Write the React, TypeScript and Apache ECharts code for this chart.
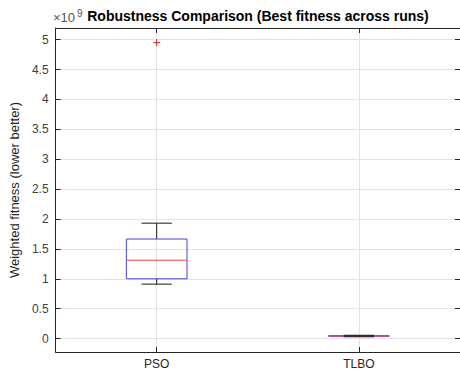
import React, { useEffect, useRef } from "react";
import * as echarts from "echarts";

const categories = ["PSO", "TLBO"];
// [low whisker, Q1, median, Q3, high whisker] in units of 1e9
const psoBox = [0.91, 1.0, 1.31, 1.665, 1.93];
const tlboBox = [0.03, 0.038, 0.043, 0.048, 0.055];
const psoOutliers = [4.95];
const tlboOutliers: number[] = [];
const yTicks = [0, 0.5, 1, 1.5, 2, 2.5, 3, 3.5, 4, 4.5, 5];
const xTicks = [1, 2];

const FONT = "Liberation Sans, Arial, sans-serif";
const AXIS_COLOR = "#262626";
const GRID_COLOR = "#e3e3e3";

export default function App() {
  const ref = useRef<HTMLDivElement>(null);
  useEffect(() => {
    if (!ref.current) return;
    const chart = echarts.init(ref.current, null, { renderer: "svg" });
    const boxData = [
      [1, ...psoBox],
      [2, ...tlboBox],
    ];
    const outlierData: number[][] = [
      ...psoOutliers.map((v) => [1, v]),
      ...tlboOutliers.map((v) => [2, v]),
    ];
    const axisCommonX = {
      type: "value" as const,
      min: 0.5,
      max: 2.5,
      axisLine: { show: true, onZero: false, lineStyle: { color: AXIS_COLOR, width: 1 } },
    };
    const axisCommonY = {
      type: "value" as const,
      min: -0.225,
      max: 5.195,
      axisLine: { show: true, onZero: false, lineStyle: { color: AXIS_COLOR, width: 1 } },
    };
    chart.setOption({
      animation: false,
      backgroundColor: "#ffffff",
      grid: { left: 52, right: -4, top: 28, bottom: 21, containLabel: false },
      graphic: [
        {
          type: "text",
          x: 258,
          y: 9,
          style: {
            text: "Robustness Comparison (Best fitness across runs)",
            fontSize: 14,
            fontWeight: "bold",
            fontFamily: FONT,
            fill: "#000",
            textAlign: "center",
            textVerticalAlign: "top",
          },
        },
        {
          type: "text",
          x: 53,
          y: 11,
          style: { text: "×10", fontSize: 13, fontFamily: FONT, fill: "#555", textVerticalAlign: "top" },
        },
        {
          type: "text",
          x: 77,
          y: 8,
          style: { text: "9", fontSize: 10, fontFamily: FONT, fill: "#555", textVerticalAlign: "top" },
        },
      ],
      xAxis: [
        {
          ...axisCommonX,
          position: "bottom",
          axisTick: { show: true, inside: true, length: 5, customValues: xTicks, lineStyle: { color: AXIS_COLOR } },
          axisLabel: {
            customValues: xTicks,
            formatter: (v: number) => categories[Math.round(v) - 1] ?? "",
            fontSize: 12,
            fontFamily: FONT,
            color: AXIS_COLOR,
            margin: 6,
          },
          splitLine: { show: true, lineStyle: { color: GRID_COLOR, width: 1 } },
        },
        {
          ...axisCommonX,
          position: "top",
          axisTick: { show: true, inside: true, length: 5, customValues: xTicks, lineStyle: { color: AXIS_COLOR } },
          axisLabel: { show: false },
          splitLine: { show: false },
        },
      ],
      yAxis: [
        {
          ...axisCommonY,
          position: "left",
          name: "Weighted fitness (lower better)",
          nameLocation: "middle",
          nameGap: 30,
          nameTextStyle: { fontSize: 13, fontFamily: FONT, color: AXIS_COLOR },
          axisTick: { show: true, inside: true, length: 5, customValues: yTicks, lineStyle: { color: AXIS_COLOR } },
          axisLabel: {
            customValues: yTicks,
            formatter: (v: number) => String(v),
            fontSize: 12,
            fontFamily: FONT,
            color: "#404040",
            margin: 7,
          },
          splitLine: { show: true, lineStyle: { color: GRID_COLOR, width: 1 } },
        },
        {
          ...axisCommonY,
          position: "right",
          axisTick: { show: true, inside: true, length: 5, customValues: yTicks, lineStyle: { color: AXIS_COLOR } },
          axisLabel: { show: false },
          splitLine: { show: false },
        },
      ],
      series: [
        {
          type: "custom",
          xAxisIndex: 0,
          yAxisIndex: 0,
          data: boxData,
          renderItem: (params: any, api: any) => {
            const x = api.value(0);
            const lo = api.coord([x, api.value(1)]);
            const q1 = api.coord([x, api.value(2)]);
            const md = api.coord([x, api.value(3)]);
            const q3 = api.coord([x, api.value(4)]);
            const hi = api.coord([x, api.value(5)]);
            const bw = api.size([0.3, 0])[0];
            const cw = api.size([0.15, 0])[0];
            const cx = lo[0];
            const black = { stroke: "#1a1a1a", lineWidth: 1 };
            return {
              type: "group",
              children: [
                { type: "line", shape: { x1: cx, y1: hi[1], x2: cx, y2: q3[1] }, style: black },
                { type: "line", shape: { x1: cx, y1: q1[1], x2: cx, y2: lo[1] }, style: black },
                {
                  type: "rect",
                  shape: { x: cx - bw / 2, y: q3[1], width: bw, height: Math.max(q1[1] - q3[1], 0.5) },
                  style: { fill: "none", stroke: "#4545d0", lineWidth: 1 },
                },
                {
                  type: "line",
                  shape: { x1: cx - bw / 2, y1: md[1], x2: cx + bw / 2, y2: md[1] },
                  style: { stroke: "#f04545", lineWidth: 1 },
                },
                { type: "line", shape: { x1: cx - cw / 2, y1: hi[1], x2: cx + cw / 2, y2: hi[1] }, style: black },
                { type: "line", shape: { x1: cx - cw / 2, y1: lo[1], x2: cx + cw / 2, y2: lo[1] }, style: black },
              ],
            };
          },
        },
        {
          type: "custom",
          xAxisIndex: 0,
          yAxisIndex: 0,
          data: outlierData,
          renderItem: (params: any, api: any) => {
            const p = api.coord([api.value(0), api.value(1)]);
            const s = 3.5;
            const st = { stroke: "#e02020", lineWidth: 1 };
            return {
              type: "group",
              children: [
                { type: "line", shape: { x1: p[0] - s, y1: p[1], x2: p[0] + s, y2: p[1] }, style: st },
                { type: "line", shape: { x1: p[0], y1: p[1] - s, x2: p[0], y2: p[1] + s }, style: st },
              ],
            };
          },
        },
      ],
    });
    return () => chart.dispose();
  }, []);
  return (
    <div
      ref={ref}
      style={{ position: "absolute", left: 0, top: 0, width: 460, height: 373, background: "#fff" }}
    />
  );
}
